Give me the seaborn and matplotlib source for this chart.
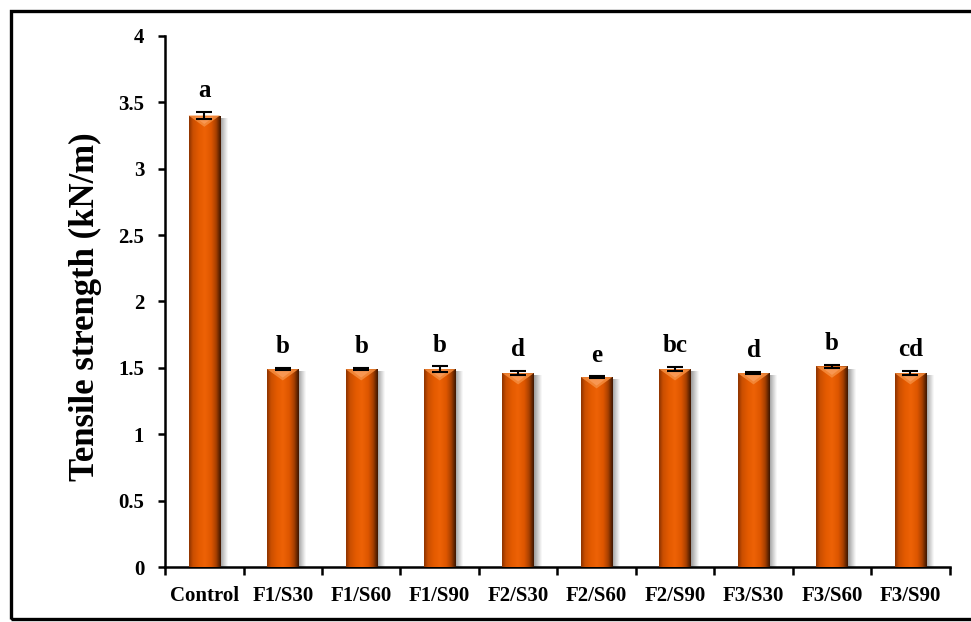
import numpy as np
import pandas as pd
import matplotlib
matplotlib.use("Agg")
import matplotlib.pyplot as plt
from matplotlib.patches import Rectangle, Polygon
from matplotlib.colors import LinearSegmentedColormap
import seaborn as sns

# Tensile strength of each treatment (kN/m), standard errors and significance letters
treatments = ["Control", "F1/S30", "F1/S60", "F1/S90", "F2/S30",
              "F2/S60", "F2/S90", "F3/S30", "F3/S60", "F3/S90"]
strength = [3.40, 1.49, 1.49, 1.49, 1.46, 1.43, 1.49, 1.46, 1.51, 1.46]
std_err = [0.03, 0.008, 0.008, 0.02, 0.015, 0.005, 0.015, 0.008, 0.01, 0.015]
letters = ["a", "b", "b", "b", "d", "e", "bc", "d", "b", "cd"]
y_ticks = [0, 0.5, 1, 1.5, 2, 2.5, 3, 3.5, 4]
y_tick_labels = ["0", "0.5", "1", "1.5", "2", "2.5", "3", "3.5", "4"]

sns.set_theme(style="white")
plt.rcParams["font.family"] = ["Liberation Serif", "DejaVu Serif"]
plt.rcParams["font.weight"] = "bold"

df = pd.DataFrame({"treatment": treatments, "strength": strength})

fig = plt.figure(figsize=(9.71, 6.22), dpi=100)
ax = fig.add_axes([0.170, 0.0884, 0.808, 0.854])

sns.barplot(data=df, x="treatment", y="strength", color="#E05A00",
            width=0.4, errorbar=None, ax=ax, zorder=3)

# cylinder-style shading across each bar
cyl = LinearSegmentedColormap.from_list(
    "cyl", [(0.0, "#8A3200"), (0.12, "#C94E00"), (0.3, "#E35A00"),
            (0.5, "#EE6206"), (0.7, "#DD5600"), (0.85, "#A84000"),
            (1.0, "#3A1400")])
grad = np.linspace(0, 1, 256).reshape(1, -1)
shadow = LinearSegmentedColormap.from_list("shadow", ["#9A9A9A", "#FFFFFF"])

for patch in list(ax.patches):
    x0, y0 = patch.get_x(), patch.get_y()
    w, h = patch.get_width(), patch.get_height()
    # soft drop shadow on the right side
    ax.imshow(np.linspace(0, 1, 64).reshape(1, -1), cmap=shadow, aspect="auto",
              extent=(x0 + w, x0 + w + 0.09, y0, y0 + h - 0.02),
              zorder=2, interpolation="bicubic")
    im = ax.imshow(grad, cmap=cyl, aspect="auto",
                   extent=(x0, x0 + w, y0, y0 + h), zorder=3.5,
                   interpolation="bicubic")
    im.set_clip_path(patch)
    patch.set_edgecolor("none")
    # bevelled top face
    top = y0 + h
    bev = 0.085
    ax.add_patch(Polygon([(x0, top), (x0 + w, top), (x0 + w / 2, top - bev)],
                         closed=True, facecolor="#F48A3A", edgecolor="none",
                         alpha=0.9, zorder=3.6))
    ax.add_patch(Polygon([(x0 + w * 0.2, top - 0.01), (x0 + w * 0.8, top - 0.01),
                          (x0 + w / 2, top - bev * 0.75)],
                         closed=True, facecolor="#FBA060", edgecolor="none",
                         alpha=0.7, zorder=3.7))

xpos = np.arange(len(treatments))
ax.errorbar(xpos, strength, yerr=std_err, fmt="none", ecolor="black",
            elinewidth=1.5, capsize=6, capthick=1.5, zorder=5)

for xi, val, err, lab in zip(xpos, strength, std_err, letters):
    ax.annotate(lab, (xi, val + err), xytext=(0, 7), textcoords="offset points",
                ha="center", va="bottom", fontsize=18, fontweight="bold",
                color="black", zorder=6)

ax.set_xlim(-0.5, len(treatments) - 0.5)
ax.set_ylim(0, 4)
ax.set_yticks(y_ticks)
ax.set_yticklabels(y_tick_labels)
ax.set_xlabel("")
ax.set_ylabel("Tensile strength (kN/m)", fontsize=25, fontweight="bold",
              color="black")
ax.yaxis.set_label_coords(-0.081, 0.49)

for side in ["top", "right"]:
    ax.spines[side].set_visible(False)
for side in ["left", "bottom"]:
    ax.spines[side].set_color("black")
    ax.spines[side].set_linewidth(1.8)

ax.tick_params(axis="y", which="major", direction="out", length=5, width=1.8,
               color="black", left=True, labelsize=15, pad=10, labelcolor="black")
ax.set_xticks(np.arange(-0.5, len(treatments), 1.0), minor=True)
ax.tick_params(axis="x", which="major", length=0, labelsize=15, pad=14,
               labelcolor="black")
ax.tick_params(axis="x", which="minor", direction="out", length=6, width=1.8,
               color="black", bottom=True)
for lbl in ax.get_xticklabels() + ax.get_yticklabels():
    lbl.set_fontweight("bold")

# outer frame around the figure
fig.patches.append(Rectangle((11 / 971, 3 / 622), 1.0, 608 / 622,
                             transform=fig.transFigure, fill=False,
                             edgecolor="black", linewidth=2.4, zorder=10))

fig.savefig("out.png", dpi=100)
